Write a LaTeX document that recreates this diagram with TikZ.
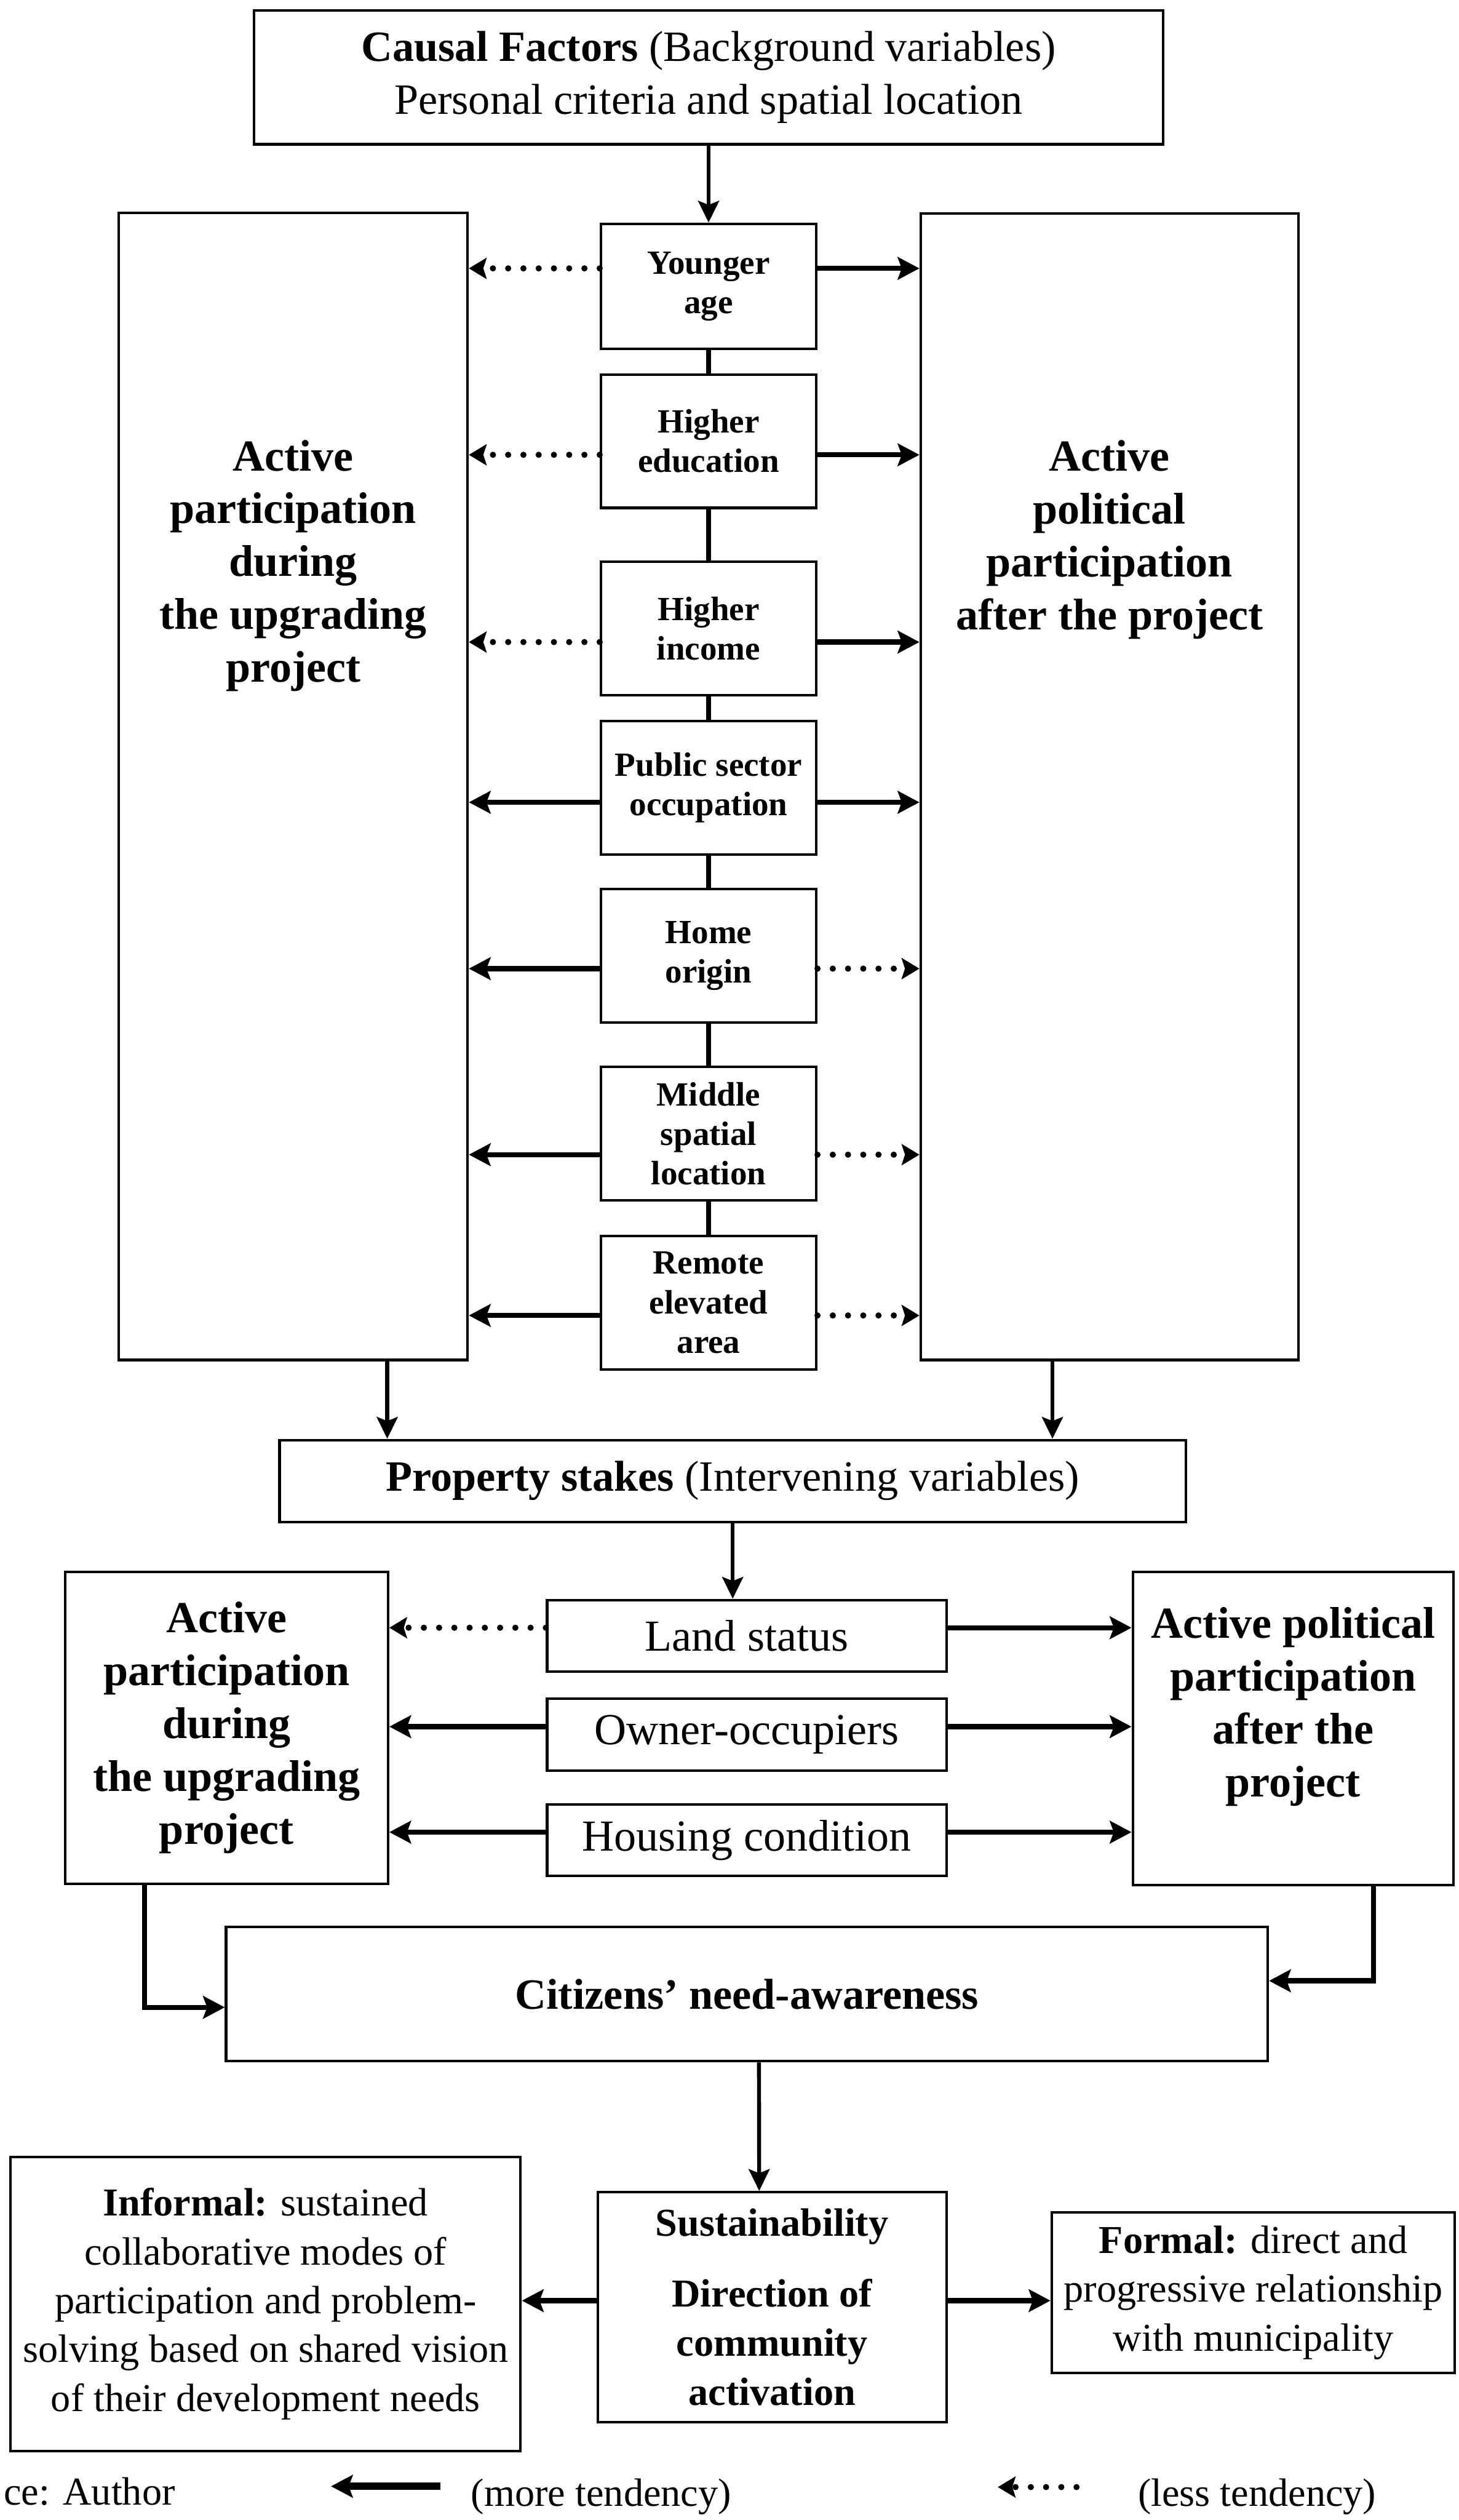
\documentclass[tikz,border=0pt]{standalone}
\usepackage{fontspec}
\setmainfont{Liberation Serif}
\usepackage{tikz}
\usetikzlibrary{arrows.meta,calc,positioning}

\begin{document}
\begin{tikzpicture}[
	box/.style={draw, line width=0.9pt, inner sep=0pt, align=center},
	factor/.style={box, minimum width=2.68cm, minimum height=1.66cm, font=\fontsize{12}{14}\selectfont\bfseries},
	stake/.style={box, minimum width=4.97cm, minimum height=0.89cm, font=\fontsize{15.7}{18.3}\selectfont},
	bigtext/.style={align=center, font=\fontsize{15.7}{18.7}\selectfont\bfseries},
	outtext/.style={align=center, font=\fontsize{14}{17.3}\selectfont},
	legend/.style={font=\fontsize{14}{17}\selectfont},
	more/.style={-{Stealth[length=0.27cm,width=0.28cm,inset=0.05cm]}, line width=1.8pt},
	less/.style={-{Stealth[length=0.22cm,width=0.26cm,inset=0.04cm]}, line width=2.2pt, line cap=round, dash pattern=on 0pt off 5.4pt},
	flow/.style={-{Stealth[length=0.27cm,width=0.26cm,inset=0.05cm]}, line width=1.4pt},
	link/.style={line width=1.8pt}
	]
	\useasboundingbox (0,0) rectangle (18.16,-31.36);
	
	\node [box, minimum width=11.32cm, minimum height=1.668cm, font=\fontsize{15.3}{18.8}\selectfont] (causal) at (8.82,-0.962) {\textbf{Causal Factors} (Background variables)\\Personal criteria and spatial location};
	
	\node [box, minimum width=4.34cm, minimum height=14.272cm] (partL) at (3.65,-9.788) {};
	\node [bigtext] (partLtxt) at (3.65,-7.04) {Active\\participation\\during\\the upgrading\\project};
	\node [box, minimum width=4.7cm, minimum height=14.264cm] (polR) at (13.81,-9.792) {};
	\node [bigtext] (polRtxt) at (13.81,-6.714) {Active\\political\\participation\\after the project};
	
	\node [factor, minimum height=1.558cm] (younger) at (8.82,-3.565) {Younger\\age};
	\node [factor] (hiedu) at (8.82,-5.49) {Higher\\education};
	\node [factor] (hiinc) at (8.82,-7.82) {Higher\\income};
	\node [factor] (public) at (8.82,-9.804) {Public sector\\occupation};
	\node [factor] (home) at (8.82,-11.894) {Home\\origin};
	\node [factor] (middle) at (8.82,-14.109) {Middle\\spatial\\location};
	\node [factor] (remote) at (8.82,-16.21) {Remote\\elevated\\area};
	
	\draw [flow] (causal.south) -- (younger.north);
	\foreach \a/\b in {younger/hiedu, hiedu/hiinc, hiinc/public, public/home, home/middle, middle/remote}
		\draw [link] (\a.south) -- (\b.north);
	
	\foreach \f/\dy/\lft/\rgt in {younger/0.225/less/more, hiedu/-0.17/less/more, hiinc/-0.17/less/more, public/-0.18/more/more, home/-0.16/more/less, middle/-0.26/more/less, remote/-0.16/more/less} {
		\draw [\lft] ($(\f.west)+(0,\dy)$) -- ($(\f.west -| partL.east)+(0,\dy)$);
		\draw [\rgt] ($(\f.east)+(0,\dy)$) -- ($(\f.east -| polR.west)+(0,\dy)$);
	}
	
	% % % % % % % % % % % % % % % % % % % % % % % % % %
	
	\node [box, minimum width=11.28cm, minimum height=1.02cm, font=\fontsize{15.3}{18.8}\selectfont] (property) at (9.12,-18.43) {\textbf{Property stakes} (Intervening variables)};
	
	\draw [flow] (partL.south) ++(1.17,0) coordinate (dropL) -- (dropL |- property.north);
	\draw [flow] (polR.south) ++(-0.71,0) coordinate (dropR) -- (dropR |- property.north);
	
	\node [stake] (land) at (9.295,-20.356) {Land status};
	\node [stake] (owner) at (9.295,-21.587) {Owner-occupiers};
	\node [stake] (housing) at (9.295,-22.9) {Housing condition};
	
	\draw [flow] (property.south) -- (property.south |- land.north);
	
	\node [box, bigtext, minimum width=4.02cm, minimum height=3.88cm] (partL2) at (2.82,-21.5) {Active\\participation\\during\\the upgrading\\project};
	\node [box, minimum width=3.99cm, minimum height=3.9cm] (polR2) at (16.095,-21.51) {};
	\node [bigtext] (polR2txt) at (16.095,-21.24) {Active political\\participation\\after the\\project};
	
	\foreach \s/\lft in {land/less, owner/more, housing/more} {
		\draw [\lft] ($(\s.west)+(0,0.1)$) -- ($(\s.west -| partL2.east)+(0,0.1)$);
		\draw [more] ($(\s.east)+(0,0.1)$) -- ($(\s.east -| polR2.west)+(0,0.1)$);
	}
	
	\node [box, minimum width=12.966cm, minimum height=1.67cm, font=\fontsize{15.3}{18.8}\selectfont\bfseries] (need) at (9.297,-24.815) {Citizens’ need-awareness};
	
	\draw [more] ([xshift=-1.02cm]partL2.south) |- ([yshift=-0.165cm]need.west);
	\draw [more] ([xshift=1.0cm]polR2.south) |- ([yshift=0.165cm]need.east);
	
	% % % % % % % % % % % % % % % % % % % % % % % % % %
	
	\node [box, minimum width=4.34cm, minimum height=2.86cm, font=\fontsize{14}{17.4}\selectfont\bfseries] (sust) at (9.61,-28.71) {Sustainability\\[7.6pt]Direction of\\community\\activation};
	\node [box, outtext, minimum width=6.348cm, minimum height=3.66cm] (informal) at (3.306,-28.67) {\textbf{Informal:} sustained\\collaborative modes of\\participation and problem-\\solving based on shared vision\\of their development needs};
	\node [box, outtext, minimum width=5.018cm, minimum height=2.0cm] (formal) at (15.6,-28.529) {\textbf{Formal:} direct and\\progressive relationship\\with municipality};
	
	\draw [flow] ([xshift=0.15cm]need.south) -- ([xshift=-0.16cm]sust.north);
	\draw [more] ($(sust.west)+(0,0.08)$) -- ($(sust.west -| informal.east)+(0,0.08)$);
	\draw [more] ($(sust.east)+(0,0.08)$) -- ($(sust.east -| formal.west)+(0,0.08)$);
	
	% legend
	\node [legend, anchor=base west, inner xsep=0pt] (source) at (0.04,-31.17) {ce: Author};
	\coordinate (moreA) at (5.48,-30.94);
	\coordinate (moreB) at (4.12,-30.94);
	\draw [more, line width=2.5pt] (moreA) -- (moreB);
	\node [legend, anchor=base west] (moretxt) at (5.74,-31.19) {(more tendency)};
	\coordinate (lessA) at (13.4,-30.95);
	\coordinate (lessB) at (12.42,-30.95);
	\draw [less] (lessA) -- (lessB);
	\node [legend, anchor=base west] (lesstxt) at (14.04,-31.19) {(less tendency)};
\end{tikzpicture}
\end{document}
